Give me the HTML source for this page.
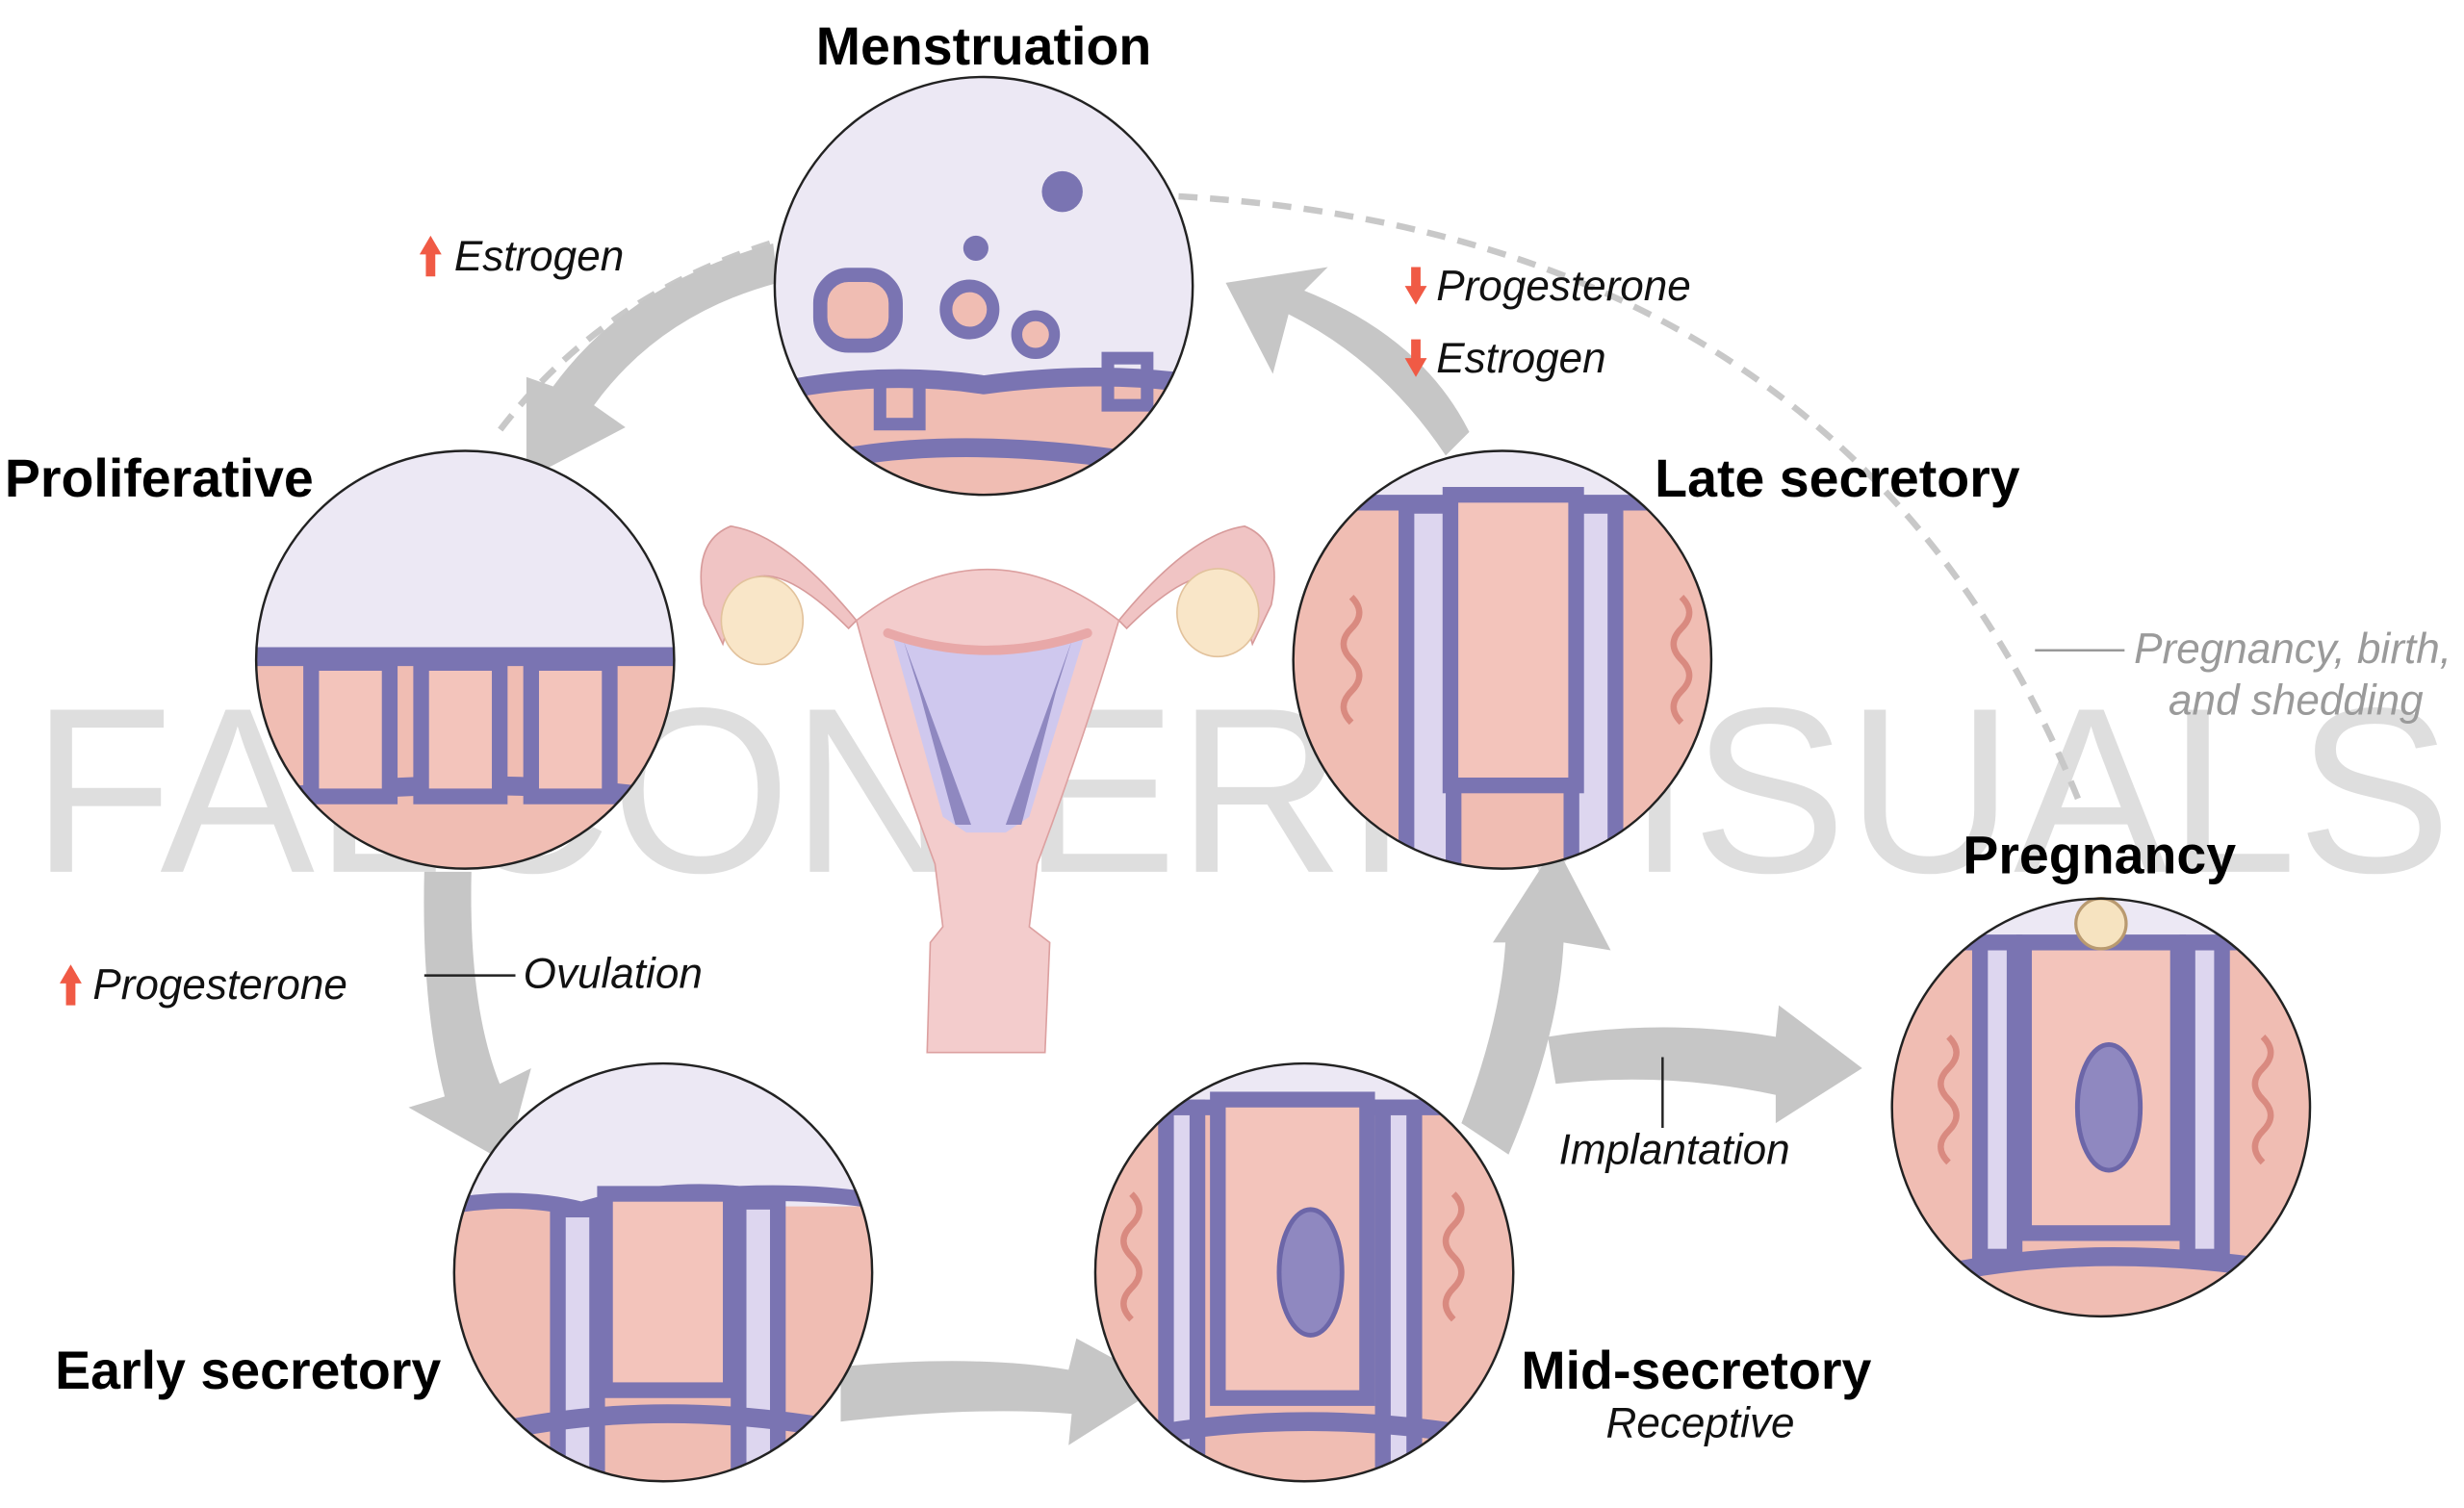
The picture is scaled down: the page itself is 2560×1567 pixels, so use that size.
<!DOCTYPE html>
<html><head><meta charset="utf-8"><style>
html,body{margin:0;padding:0;background:#fff}
svg{display:block}
text{font-family:"Liberation Sans",Arial,sans-serif}
.t{font-weight:bold;font-size:34px;fill:#000}
.i{font-style:italic;font-size:27px;fill:#111}
</style></head><body>
<svg width="2560" height="1567" viewBox="0 0 1568 960" preserveAspectRatio="none" xmlns="http://www.w3.org/2000/svg">
<defs>
<clipPath id="c1"><circle cx="626" cy="182" r="133"/></clipPath>
<clipPath id="c2"><circle cx="296" cy="420" r="133"/></clipPath>
<clipPath id="c3"><circle cx="956" cy="420" r="133"/></clipPath>
<clipPath id="c4"><circle cx="422" cy="810" r="133"/></clipPath>
<clipPath id="c5"><circle cx="830" cy="810" r="133"/></clipPath>
<clipPath id="c6"><circle cx="1337" cy="705" r="133"/></clipPath>
</defs>
<rect width="1568" height="960" fill="#fff"/>

<text x="790" y="555" text-anchor="middle" font-size="150" fill="#000" fill-opacity="0.13" textLength="1540" lengthAdjust="spacingAndGlyphs" style="font-family:'Liberation Sans',sans-serif">FALCONIERI VISUALS</text>

<path d="M490 155 Q380 190 315 278" fill="none" stroke="#c8c8c8" stroke-width="4" stroke-dasharray="12 8"/>
<path d="M750 125 Q1180 150 1325 515" fill="none" stroke="#c8c8c8" stroke-width="4" stroke-dasharray="12 8"/>

<g fill="#c6c6c6" stroke="none">
<path d="M495 180 Q420 200 378 258 L398 272 L335 305 L335 240 L352 246 Q400 180 492 155 Z"/>
<path d="M920 290 Q880 230 820 200 L810 238 L780 180 L845 170 L830 185 Q905 215 935 275 Z"/>
<path d="M270 555 L300 555 Q298 640 318 690 L338 680 L322 740 L260 705 L283 698 Q268 640 270 555 Z"/>
<path d="M535 870 Q620 862 680 872 L685 852 L740 882 L680 920 L682 900 Q620 895 535 905 Z"/>
<path d="M930 715 Q955 650 958 600 L950 600 L990 538 L1025 605 L995 600 Q992 660 960 735 Z"/>
<path d="M985 660 Q1060 648 1130 660 L1132 640 L1185 680 L1130 715 L1130 697 Q1060 682 990 690 Z"/>
</g>

<g>
<path d="M545 395 Q500 340 465 335 Q440 345 448 385 L460 410 L470 375 Q490 350 540 400 Z" fill="#f0c4c4" stroke="#d79b9b"/>
<ellipse cx="485" cy="395" rx="26" ry="28" fill="#f9e6c8" stroke="#e2c29c"/>
<path d="M712 395 Q757 340 792 335 Q817 345 809 385 L797 410 L787 375 Q767 350 717 400 Z" fill="#f0c4c4" stroke="#d79b9b"/>
<ellipse cx="775" cy="390" rx="26" ry="28" fill="#f9e6c8" stroke="#e2c29c"/>
<path d="M545 395 Q628 330 712 395 Q690 470 660 550 L655 590 L668 600 L665 670 L590 670 L592 600 L600 590 L595 550 Q565 470 545 395 Z" fill="#f3cccc" stroke="#dca0a0"/>
<path d="M568 405 Q628 420 690 405 L655 520 L640 530 L615 530 L600 520 Z" fill="#cfc8ee"/>
<path d="M575 408 L618 525 L608 525 L585 440 Z M682 408 L640 525 L650 525 L672 440 Z" fill="#8f88c0"/>
<path d="M565 403 Q628 425 692 403" fill="none" stroke="#e8a8a8" stroke-width="6" stroke-linecap="round"/>
</g>

<g clip-path="url(#c1)">
<rect x="490" y="45" width="275" height="275" fill="#ece8f4"/>
<path d="M490 255 Q560 240 626 248 Q700 240 765 250 L765 320 L490 320 Z" fill="#f0bdb3"/>
<path d="M490 250 Q560 235 626 245 Q700 235 765 245" fill="none" stroke="#7a74b2" stroke-width="12"/>
<path d="M500 300 Q600 270 760 300" fill="none" stroke="#7a74b2" stroke-width="12"/>
<rect x="522" y="175" width="48" height="45" rx="18" fill="#f0bdb3" stroke="#7a74b2" stroke-width="9"/>
<circle cx="617" cy="197" r="15" fill="#f0bdb3" stroke="#7a74b2" stroke-width="8"/>
<circle cx="659" cy="213" r="12" fill="#f0bdb3" stroke="#7a74b2" stroke-width="7"/>
<circle cx="621" cy="158" r="8" fill="#7a74b2"/>
<circle cx="676" cy="122" r="13" fill="#7a74b2"/>
<rect x="560" y="240" width="25" height="30" fill="none" stroke="#7a74b2" stroke-width="8"/>
<rect x="705" y="228" width="25" height="30" fill="none" stroke="#7a74b2" stroke-width="8"/>
</g>
<circle cx="626" cy="182" r="133" fill="none" stroke="#222" stroke-width="1.5"/>

<g clip-path="url(#c2)">
<rect x="160" y="285" width="275" height="275" fill="#ece8f4"/>
<rect x="160" y="418" width="275" height="140" fill="#f0bdb3"/>
<path d="M160 418 L435 418" stroke="#7a74b2" stroke-width="12"/>
<path d="M160 510 Q300 490 435 510" stroke="#7a74b2" stroke-width="12" fill="none"/>
<rect x="198" y="422" width="50" height="85" fill="#f3c4bb" stroke="#7a74b2" stroke-width="10"/>
<rect x="268" y="422" width="50" height="85" fill="#f3c4bb" stroke="#7a74b2" stroke-width="10"/>
<rect x="338" y="422" width="50" height="85" fill="#f3c4bb" stroke="#7a74b2" stroke-width="10"/>
</g>
<circle cx="296" cy="420" r="133" fill="none" stroke="#222" stroke-width="1.5"/>

<g clip-path="url(#c3)">
<rect x="820" y="285" width="275" height="275" fill="#f0bdb3"/>
<rect x="820" y="285" width="275" height="35" fill="#ece8f4"/>
<path d="M820 320 L1095 320" stroke="#7a74b2" stroke-width="10"/>
<rect x="895" y="322" width="30" height="240" fill="#ddd6ef" stroke="#7a74b2" stroke-width="10"/>
<rect x="1000" y="322" width="28" height="240" fill="#ddd6ef" stroke="#7a74b2" stroke-width="10"/>
<rect x="923" y="315" width="80" height="185" fill="#f3c4bb" stroke="#7a74b2" stroke-width="10"/>
<path d="M860 380 q10 10 0 20 q-10 10 0 20 q10 10 0 20 q-10 10 0 20 M1070 380 q10 10 0 20 q-10 10 0 20 q10 10 0 20 q-10 10 0 20" stroke="#d98a80" stroke-width="4" fill="none"/>
</g>
<circle cx="956" cy="420" r="133" fill="none" stroke="#222" stroke-width="1.5"/>

<g clip-path="url(#c4)">
<rect x="285" y="675" width="275" height="275" fill="#ece8f4"/>
<rect x="285" y="768" width="275" height="180" fill="#f0bdb3"/>
<path d="M285 768 Q330 760 370 770 Q420 755 470 760 Q520 758 560 765" stroke="#7a74b2" stroke-width="10" fill="none"/>
<rect x="355" y="770" width="25" height="180" fill="#ddd6ef" stroke="#7a74b2" stroke-width="10"/>
<rect x="470" y="765" width="25" height="180" fill="#ddd6ef" stroke="#7a74b2" stroke-width="10"/>
<rect x="385" y="760" width="80" height="125" fill="#f3c4bb" stroke="#7a74b2" stroke-width="10"/>
<path d="M300 915 Q420 885 560 915" stroke="#7a74b2" stroke-width="12" fill="none"/>
</g>
<circle cx="422" cy="810" r="133" fill="none" stroke="#222" stroke-width="1.5"/>

<g clip-path="url(#c5)">
<rect x="695" y="675" width="275" height="275" fill="#f0bdb3"/>
<rect x="695" y="675" width="275" height="30" fill="#ece8f4"/>
<path d="M695 705 L970 705" stroke="#7a74b2" stroke-width="10"/>
<rect x="742" y="705" width="20" height="245" fill="#ddd6ef" stroke="#7a74b2" stroke-width="10"/>
<rect x="880" y="705" width="20" height="245" fill="#ddd6ef" stroke="#7a74b2" stroke-width="10"/>
<rect x="775" y="700" width="95" height="190" fill="#f3c4bb" stroke="#7a74b2" stroke-width="10"/>
<ellipse cx="834" cy="810" rx="20" ry="40" fill="#8f88c0" stroke="#6c66a8" stroke-width="3"/>
<path d="M720 760 q10 10 0 20 q-10 10 0 20 q10 10 0 20 q-10 10 0 20 M925 760 q10 10 0 20 q-10 10 0 20 q10 10 0 20 q-10 10 0 20" stroke="#d98a80" stroke-width="4" fill="none"/>
<path d="M700 920 Q830 890 970 920" stroke="#7a74b2" stroke-width="12" fill="none"/>
</g>
<circle cx="830" cy="810" r="133" fill="none" stroke="#222" stroke-width="1.5"/>

<g clip-path="url(#c6)">
<rect x="1200" y="570" width="275" height="275" fill="#f0bdb3"/>
<rect x="1200" y="570" width="275" height="30" fill="#ece8f4"/>
<path d="M1200 600 L1475 600" stroke="#7a74b2" stroke-width="10"/>
<rect x="1260" y="600" width="22" height="200" fill="#ddd6ef" stroke="#7a74b2" stroke-width="10"/>
<rect x="1392" y="600" width="22" height="200" fill="#ddd6ef" stroke="#7a74b2" stroke-width="10"/>
<rect x="1288" y="600" width="98" height="185" fill="#f3c4bb" stroke="#7a74b2" stroke-width="10"/>
<ellipse cx="1342" cy="705" rx="20" ry="40" fill="#8f88c0" stroke="#6c66a8" stroke-width="3"/>
<path d="M1240 660 q10 10 0 20 q-10 10 0 20 q10 10 0 20 q-10 10 0 20 M1440 660 q10 10 0 20 q-10 10 0 20 q10 10 0 20 q-10 10 0 20" stroke="#d98a80" stroke-width="4" fill="none"/>
<path d="M1240 810 Q1340 790 1460 810" stroke="#7a74b2" stroke-width="12" fill="none"/>
</g>
<circle cx="1337" cy="588" r="16" fill="#f6e3c0" stroke="#b99a70" stroke-width="2"/>
<circle cx="1337" cy="705" r="133" fill="none" stroke="#222" stroke-width="1.5"/>

<text class="t" x="626" y="41" text-anchor="middle">Menstruation</text>
<text class="t" x="3" y="316">Proliferative</text>
<text class="t" x="1053" y="316">Late secretory</text>
<text class="t" x="1336" y="556" text-anchor="middle">Pregnancy</text>
<text class="t" x="35" y="884">Early secretory</text>
<text class="t" x="968" y="884">Mid-secretory</text>
<text class="i" x="1082" y="915" text-anchor="middle">Receptive</text>

<g fill="#f05a45">
<path d="M274 150 L267 162 L271 162 L271 176 L277 176 L277 162 L281 162 Z"/>
<path d="M901 194 L894 182 L898 182 L898 170 L904 170 L904 182 L908 182 Z"/>
<path d="M901 240 L894 228 L898 228 L898 216 L904 216 L904 228 L908 228 Z"/>
<path d="M45 614 L38 626 L42 626 L42 640 L48 640 L48 626 L52 626 Z"/>
</g>
<text class="i" x="289" y="172">Estrogen</text>
<text class="i" x="914" y="191">Progesterone</text>
<text class="i" x="914" y="237">Estrogen</text>
<text class="i" x="59" y="636">Progesterone</text>
<line x1="270" y1="621" x2="328" y2="621" stroke="#222" stroke-width="1.5"/>
<text class="i" x="333" y="629">Ovulation</text>
<line x1="1058" y1="673" x2="1058" y2="718" stroke="#222" stroke-width="1.5"/>
<text class="i" x="992" y="741">Implantation</text>
<line x1="1295" y1="414" x2="1352" y2="414" stroke="#999" stroke-width="1.5"/>
<text class="i" x="1358" y="422" style="fill:#9a9a9a">Pregnancy, birth,</text>
<text class="i" x="1380" y="455" style="fill:#9a9a9a">and shedding</text>
</svg>
</body></html>
